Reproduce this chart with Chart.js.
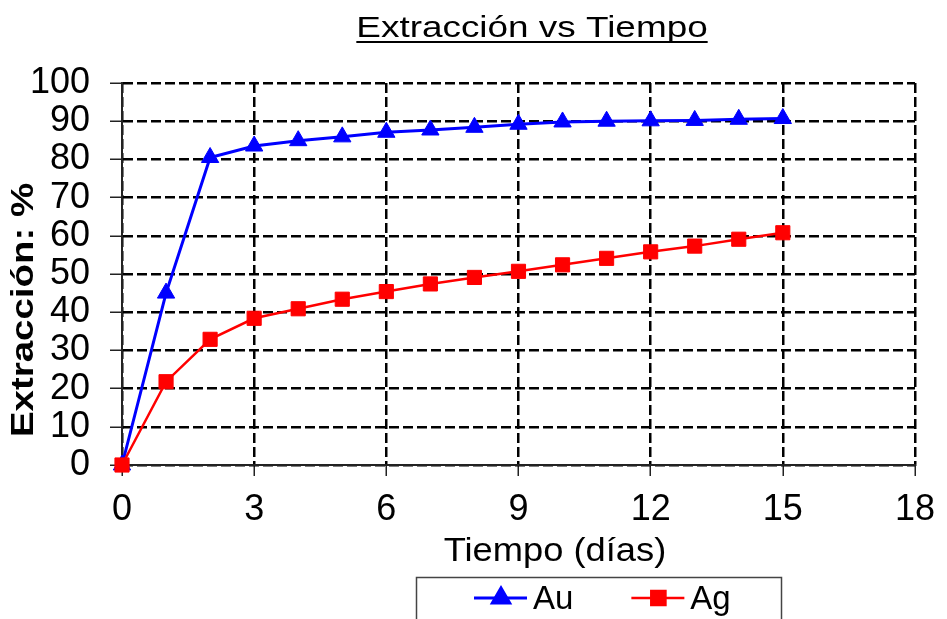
<!DOCTYPE html>
<html>
<head>
<meta charset="utf-8">
<script src="https://cdn.jsdelivr.net/npm/chart.js@4/dist/chart.umd.min.js"></script>
<style>
  body { margin: 0; background: #fff; }
  #wrap { width: 947px; height: 619px; }
</style>
</head>
<body>
<div id="wrap"><canvas id="chart"></canvas></div>
<script>
// días de lixiviación
const dias = [0, 1, 2, 3, 4, 5, 6, 7, 8, 9, 10, 11, 12, 13, 14, 15];
// extracción (%)
const au = [0, 45.0, 80.5, 83.5, 84.9, 85.9, 87.1, 87.7, 88.4, 89.2, 89.8, 90.0, 90.1, 90.2, 90.5, 90.7];
const ag = [0, 21.8, 32.9, 38.4, 40.9, 43.4, 45.4, 47.4, 49.1, 50.7, 52.4, 54.1, 55.8, 57.3, 59.1, 60.8];

const titulo = 'Extracción vs Tiempo';
const tituloX = 'Tiempo (días)';
const tituloY = 'Extracción: %';

const FONT = '"Liberation Sans", Arial, sans-serif';
Chart.defaults.font.family = FONT;
Chart.defaults.color = '#000';

function puntos(ys) {
    return dias.map((d, i) => ({ x: d, y: ys[i] }));
}

// texto estirado a lo ancho (como en el original de Excel)
function textoAncho(ctx, txt, x, y, font, sx, rot) {
    ctx.save();
    ctx.font = font;
    ctx.fillStyle = '#000';
    ctx.translate(x, y);
    if (rot) ctx.rotate(rot);
    ctx.scale(sx, 1);
    ctx.textAlign = 'center';
    ctx.fillText(txt, 0, 0);
    const w = ctx.measureText(txt).width * sx;
    ctx.restore();
    return w;
}

const decoracion = {
    id: 'decoracion',
    afterDraw(chart) {
        const ctx = chart.ctx;

        // titulo subrayado
        ctx.textBaseline = 'alphabetic';
        const w = textoAncho(ctx, titulo, 532, 37, '30px ' + FONT, 1.23);
        ctx.save();
        ctx.strokeStyle = '#000';
        ctx.lineWidth = 2;
        ctx.beginPath();
        ctx.moveTo(532 - w / 2, 42);
        ctx.lineTo(532 + w / 2, 42);
        ctx.stroke();
        ctx.restore();

        // titulos de ejes
        textoAncho(ctx, tituloX, 555, 561, '33px ' + FONT, 1.1);
        ctx.save();
        ctx.textBaseline = 'middle';
        textoAncho(ctx, tituloY, 24, 310, 'bold 31px ' + FONT, 1.24, -Math.PI / 2);
        ctx.restore();

        // leyenda
        ctx.save();
        ctx.strokeStyle = '#444';
        ctx.lineWidth = 1.5;
        ctx.strokeRect(416.5, 577.5, 365, 60);
        ctx.font = '33px ' + FONT;
        ctx.textBaseline = 'alphabetic';
        let lx = 474;
        const ly = 598;
        chart.data.datasets.forEach(ds => {
            ctx.strokeStyle = ds.borderColor;
            ctx.lineWidth = ds.borderWidth;
            ctx.beginPath();
            ctx.moveTo(lx, ly);
            ctx.lineTo(lx + 53, ly);
            ctx.stroke();
            ctx.fillStyle = ds.backgroundColor;
            ctx.strokeStyle = ds.borderColor;
            Chart.helpers.drawPoint(ctx, {
                pointStyle: ds.pointStyle, radius: ds.pointRadius, rotation: 0, borderWidth: 1
            }, lx + 27, ly);
            ctx.fillStyle = '#000';
            ctx.textAlign = 'left';
            ctx.fillText(ds.label, lx + 59, 609);
            lx += 59 + ctx.measureText(ds.label).width + 58;
        });
        ctx.restore();
    }
};

const config = {
    type: 'line',
    data: {
        datasets: [
            {
                label: 'Au',
                data: puntos(au),
                borderColor: '#0000ff',
                backgroundColor: '#0000ff',
                borderWidth: 3,
                pointStyle: 'triangle',
                pointRadius: 10,
                pointBorderWidth: 1,
                clip: false,
                order: 1
            },
            {
                label: 'Ag',
                data: puntos(ag),
                borderColor: '#ff0000',
                backgroundColor: '#ff0000',
                borderWidth: 2.5,
                pointStyle: 'rect',
                pointRadius: 10,
                pointBorderWidth: 1,
                clip: false,
                order: 0
            }
        ]
    },
    options: {
        responsive: true,
        maintainAspectRatio: false,
        animation: false,
        layout: { padding: { top: 83, right: 29, bottom: 0, left: 0 } },
        plugins: {
            legend: { display: false },
            title: { display: false },
            tooltip: { enabled: false }
        },
        scales: {
            x: {
                type: 'linear',
                min: 0,
                max: 18,
                ticks: { stepSize: 3, autoSkip: false, padding: 12, font: { size: 36 } },
                grid: { color: '#000', lineWidth: 2.5, tickLength: 11, tickColor: '#222', tickWidth: 1.5 },
                border: { color: '#222', width: 2, dash: [10, 4] },
                afterFit(scale) { scale.height = 154; }
            },
            y: {
                min: 0,
                max: 100,
                ticks: { stepSize: 10, autoSkip: false, padding: 20, font: { size: 36 } },
                grid: { color: '#000', lineWidth: 2.5, tickLength: 12, tickColor: '#222', tickWidth: 1.5 },
                border: { color: '#222', width: 2, dash: [10, 4] },
                afterFit(scale) { scale.width = 122; }
            }
        }
    },
    plugins: [decoracion]
};

new Chart(document.getElementById('chart').getContext('2d'), config);
</script>
</body>
</html>
